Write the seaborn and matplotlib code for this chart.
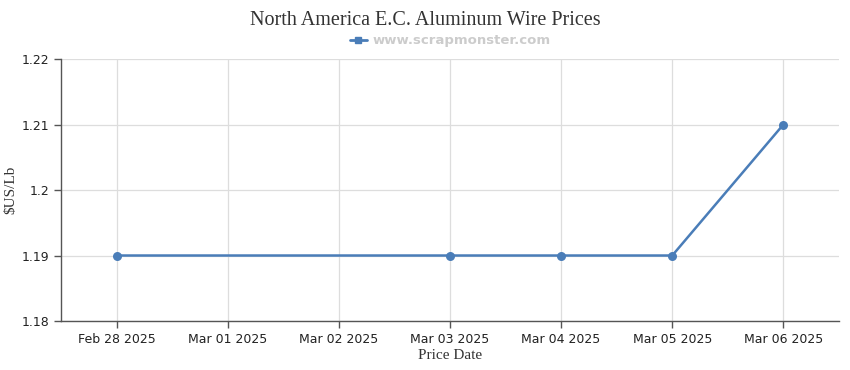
import pandas as pd
import numpy as np
import matplotlib.pyplot as plt
import matplotlib.dates as mdates
from matplotlib.lines import Line2D
import seaborn as sns

# Price data
dates = ['2025-02-28', '2025-03-03', '2025-03-04', '2025-03-05', '2025-03-06']
prices = [1.19, 1.19, 1.19, 1.19, 1.21]
y_ticks = [1.18, 1.19, 1.20, 1.21, 1.22]
y_tick_labels = ['1.18', '1.19', '1.2', '1.21', '1.22']

sns.set_style('white')
plt.rcParams['font.family'] = ['DejaVu Sans']

df = pd.DataFrame({'date': pd.to_datetime(dates), 'price': prices})

fig = plt.figure(figsize=(8.5, 3.7), dpi=100)
ax = fig.add_axes([0.0718, 0.1324, 0.9152, 0.7081])

line_color = '#4a7db8'
sns.lineplot(data=df, x='date', y='price', color=line_color, lw=1.8,
             marker='o', markersize=6.5, markeredgewidth=0, ax=ax, legend=False)

ax.set_xlim(pd.Timestamp('2025-02-27 12:00'), pd.Timestamp('2025-03-06 12:00'))
ax.set_ylim(1.18, 1.22)
ax.xaxis.set_major_locator(mdates.DayLocator())
ax.xaxis.set_major_formatter(mdates.DateFormatter('%b %d %Y'))
ax.set_yticks(y_ticks)
ax.set_yticklabels(y_tick_labels)

ax.grid(True, color='#dddddd', lw=0.9)
ax.set_axisbelow(True)
for side in ['top', 'right']:
    ax.spines[side].set_visible(False)
for side in ['left', 'bottom']:
    ax.spines[side].set_color('#555555')
    ax.spines[side].set_linewidth(1.0)
ax.tick_params(axis='both', direction='out', length=5, width=1, color='#555555',
               labelsize=9, labelcolor='#222222', bottom=True, left=True)

ax.set_xlabel('Price Date', family='Liberation Serif', fontsize=11, color='#333333', labelpad=2)
ax.set_ylabel('$US/Lb', family='Liberation Serif', fontsize=11, color='#333333', labelpad=3)

fig.suptitle('North America E.C. Aluminum Wire Prices', family='Liberation Serif',
             fontsize=14.5, color='#333333', y=0.97)

handle = Line2D([], [], color=line_color, lw=2, marker='s', markersize=5)
leg = ax.legend([handle], ['www.scrapmonster.com'], loc='center',
                bbox_to_anchor=(0.5, 1.07), frameon=False,
                handlelength=1.3, handletextpad=0.4,
                prop={'weight': 'bold', 'size': 9.5})
for t in leg.get_texts():
    t.set_color('#cccccc')

fig.savefig('out.png', dpi=100)
